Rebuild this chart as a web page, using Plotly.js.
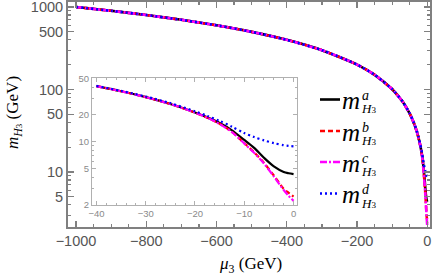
<!DOCTYPE html>
<html><head><meta charset="utf-8">
<script src="https://cdn.plot.ly/plotly-3.0.1.min.js"></script>
<style>html,body{margin:0;padding:0;background:#fff;} #chart{width:436px;height:278px;}</style>
</head><body><div id="chart"></div>
<script>
// mu_3 (GeV)
const mu = [-1000,-900,-800,-700,-600,-500,-400,-300,-200,-150,-100,-70,-50,-40,-35,-30,-25,-20,-17.5,-15,-12.5,-10,-8,-6,-4,-2,-1,0];
// m_H3 (GeV) for the four cases
const mA = [1000,900,800,700,600,500,400,300,200.5,150.6,100.8,70.9,50.9,41.0,36.0,31.0,26.0,21.0,18.5,16.0,13.3,10.4,8.5,6.6,5.3,4.6,4.45,4.35];
const mB = [1000,900,800,700,600,500,400,300,200.5,150.6,100.8,70.9,50.9,41.0,36.0,31.0,26.0,20.9,18.3,15.7,12.8,9.6,7.6,5.8,4.2,3.0,2.7,2.45];
const mC = [1000,900,800,700,600,500,400,300,200.5,150.6,100.8,70.9,50.9,41.0,36.0,31.0,26.0,20.9,18.3,15.6,12.7,9.5,7.5,5.7,4.1,2.9,2.5,2.2];
const mD = [1000,900,800,700,600,500,400,300,200.6,150.8,101.0,71.2,51.3,41.3,36.4,31.5,26.6,21.6,19.2,16.9,14.6,12.4,11.2,10.3,9.6,9.1,8.95,8.85];
const labels = ['a','b','c','d'];
const colors = ['#000000','#ff0000','#ff00ff','#0000ff'];
const dashes = ['solid','5px,3px','7px,2px,2px,2px','2px,3px'];
const series = [mA,mB,mC,mD];

const mainXTicks = [-1000,-800,-600,-400,-200,0];
const mainYTicks = [5,10,50,100,500,1000];
const insetXTicks = [-40,-30,-20,-10,0];
const insetYTicks = [2,5,10,20,50];

const L=68, T=2, W=362, H=225;
const px = v => (v-L)/W;
const py = v => (T+H-v)/H;

const traces = [];
series.forEach((s,i)=>{
  traces.push({x:mu, y:s, mode:'lines', type:'scatter', xaxis:'x', yaxis:'y',
    line:{color:colors[i], width:2.6, dash:dashes[i], shape:'spline', smoothing:0.6}, hoverinfo:'skip'});
});
series.forEach((s,i)=>{
  const xs=[], ys=[];
  mu.forEach((m,j)=>{ if(m>=-40){xs.push(m); ys.push(s[j]);} });
  traces.push({x:xs, y:ys, mode:'lines', type:'scatter', xaxis:'x2', yaxis:'y2',
    line:{color:colors[i], width:2.2, dash:dashes[i], shape:'spline', smoothing:0.8}, hoverinfo:'skip'});
});

const minorY = [];
[1,10,100].forEach(d=>{ for(let k=2;k<=9;k++){ const v=k*d; if(v>=2 && v<=1100 && mainYTicks.indexOf(v)<0) minorY.push(v);} });
const minorY2 = [3,4,6,7,8,9,30,40];

const frame = '#808080', tickc = '#555555';
const inframe = '#b0b0b0', intick = '#8a8a8a';

const shapes = [], annotations = [];
const legY = [99.5,131,162,193.5];
labels.forEach((lab,i)=>{
  const yy = legY[i];
  shapes.push({type:'line', xref:'paper', yref:'paper', x0:px(320), x1:px(340), y0:py(yy), y1:py(yy),
    line:{color:colors[i], width:2.6, dash:dashes[i]}});
  annotations.push({xref:'paper', yref:'paper', x:px(340), y:py(yy+1), xanchor:'left', yanchor:'middle',
    text:'<i>m</i>', showarrow:false, font:{family:'Liberation Serif', size:25, color:'#000'}});
  annotations.push({xref:'paper', yref:'paper', x:px(360), y:py(yy-4), xanchor:'left', yanchor:'middle',
    text:'<i>'+lab+'</i>', showarrow:false, font:{family:'Liberation Serif', size:14, color:'#000'}});
  annotations.push({xref:'paper', yref:'paper', x:px(359), y:py(yy+9.5), xanchor:'left', yanchor:'middle',
    text:'<i>H</i><span style="font-size:9px">3</span>', showarrow:false, font:{family:'Liberation Serif', size:13, color:'#000'}});
});
annotations.push({xref:'paper', yref:'paper', x:px(14), y:py(113), xanchor:'center', yanchor:'middle', textangle:-90,
  text:'<i>m</i><sub><i>H</i><span style="font-size:9px">3</span></sub> (GeV)', showarrow:false,
  font:{family:'Liberation Serif', size:17, color:'#000'}});
annotations.push({xref:'paper', yref:'paper', x:px(250), y:py(265), xanchor:'center', yanchor:'middle',
  text:'<i>μ</i><sub>3</sub> (GeV)', showarrow:false,
  font:{family:'Liberation Serif', size:17, color:'#000'}});

const layout = {
  width:436, height:278, margin:{l:L, r:436-L-W, t:T, b:278-T-H},
  paper_bgcolor:'#fff', plot_bgcolor:'#fff', showlegend:false,
  xaxis:{domain:[0,1], range:[-1022.8,7.7], tickmode:'array', tickvals:mainXTicks,
    ticktext:mainXTicks.map(v=>v<0?'\u2212'+Math.abs(v):String(v)), ticklabeloverflow:'allow',
    ticks:'inside', ticklen:6, tickwidth:1.2, tickcolor:frame, showline:true, linecolor:frame, linewidth:2,
    mirror:'allticks', showgrid:false, zeroline:false,
    tickfont:{family:'Liberation Sans', size:14.5, color:tickc},
    minor:{tickmode:'linear', tick0:0, dtick:50, ticks:'inside', ticklen:3, tickcolor:frame, showgrid:false}},
  yaxis:{domain:[0,1], type:'log', range:[0.333,3.061], tickmode:'array', tickvals:mainYTicks,
    ticktext:mainYTicks.map(String), ticklabeloverflow:'allow',
    ticks:'inside', ticklen:6, tickwidth:1.2, tickcolor:frame, showline:true, linecolor:frame, linewidth:2,
    mirror:'allticks', showgrid:false, zeroline:false,
    tickfont:{family:'Liberation Sans', size:14.5, color:tickc},
    minor:{tickmode:'array', tickvals:minorY, ticks:'inside', ticklen:3, tickcolor:frame, showgrid:false}},
  xaxis2:{domain:[px(92),px(297)], anchor:'y2', range:[-40.9,0.7], tickmode:'array', tickvals:insetXTicks,
    ticktext:insetXTicks.map(v=>v<0?'\u2212'+Math.abs(v):String(v)), ticklabeloverflow:'allow',
    ticks:'inside', ticklen:4, tickwidth:1, tickcolor:inframe, showline:true, linecolor:inframe, linewidth:1,
    mirror:'allticks', showgrid:false, zeroline:false,
    tickfont:{family:'Liberation Sans', size:9.5, color:intick},
    minor:{tickmode:'linear', tick0:0, dtick:2, ticks:'inside', ticklen:2, tickcolor:inframe, showgrid:false}},
  yaxis2:{domain:[py(205),py(78)], anchor:'x2', type:'log', range:[Math.log10(1.98),Math.log10(50.5)],
    tickmode:'array', tickvals:insetYTicks, ticktext:insetYTicks.map(String), ticklabeloverflow:'allow',
    ticks:'inside', ticklen:4, tickwidth:1, tickcolor:inframe, showline:true, linecolor:inframe, linewidth:1,
    mirror:'allticks', showgrid:false, zeroline:false,
    tickfont:{family:'Liberation Sans', size:9.5, color:intick},
    minor:{tickmode:'array', tickvals:minorY2, ticks:'inside', ticklen:2, tickcolor:inframe, showgrid:false}},
  shapes:shapes, annotations:annotations
};
Plotly.newPlot('chart', traces, layout, {staticPlot:true, displayModeBar:false});
</script>
</body></html>
